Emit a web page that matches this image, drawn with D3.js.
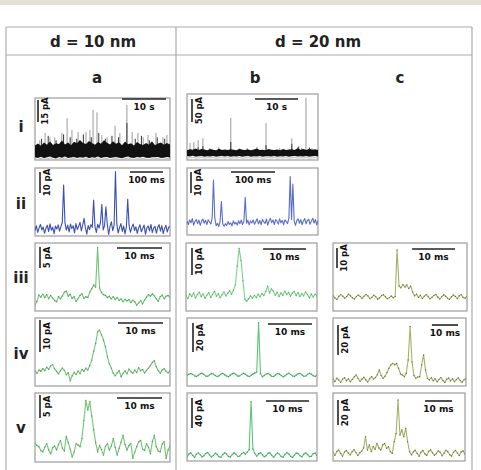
<!DOCTYPE html>
<html>
<head>
<meta charset="utf-8">
<script src="https://cdn.jsdelivr.net/npm/d3@7"></script>
<style>
  body { margin: 0; background: #fff; }
  text { font-family: "DejaVu Sans", Verdana, sans-serif; font-weight: bold; }
</style>
</head>
<body>
<div id="chart"></div>
<script>
// ---- labels ----
const colHeads = ["d = 10 nm", "d = 20 nm"];
const colLetters = ["a", "b", "c"];
const rowLabels = ["i", "ii", "iii", "iv", "v"];

// ---- row i : dense recordings (envelope of the black band + spikes, t in s, pA) ----
const aiHi = [4.5, 5.8, 4.2, 6.5, 5.0, 7.2, 4.8, 6.0, 5.5, 7.8, 5.2, 6.4, 4.6, 7.0, 5.9, 8.2, 6.1, 5.4, 7.5, 6.2, 4.9, 6.8, 5.7, 8.0, 6.3, 5.1, 7.3, 5.6, 6.6, 4.7, 7.1, 5.3, 6.0, 4.4, 6.9, 5.5, 4.8, 6.2, 5.0, 7.4, 4.6, 5.8, 6.5, 4.9, 6.1, 5.2];
const aiLo = [-3.5, -4.0, -3.2, -4.2, -3.6, -3.0, -3.9, -4.3, -3.4, -3.8, -3.1, -4.0, -3.7, -3.3, -4.1, -3.6, -3.9, -3.2, -4.2, -3.5, -3.8, -3.0, -4.0, -3.6, -3.4, -4.1, -3.7, -3.3, -3.9, -4.2, -3.5, -3.1, -3.8, -4.0, -3.4, -3.7, -3.2, -3.9, -4.1, -3.5, -3.6, -3.3, -4.0, -3.8, -3.4, -3.7];
const aiGreySpikes = [[1.1, 8], [2.3, 13], [3.4, 10], [4.5, 10], [6.1, 13], [7.3, 23], [8.4, 15], [9.8, 13.6], [11.6, 13.6], [12.5, 15], [13.2, 28.6], [14.1, 27], [15.2, 11.6], [16.4, 10], [18.2, 18], [19.3, 13], [20.9, 32], [22.1, 13.6], [23.4, 13], [24.6, 10], [25.7, 11.6], [27.5, 13], [29.1, 10], [30.0, 11.6]];
const aiDarkSpikes = [[1.5, 9], [3.0, 11], [4.8, 8], [6.5, 12], [8.0, 10], [9.5, 9], [11.0, 12], [12.8, 10], [14.5, 13], [16.0, 9], [17.5, 11], [19.0, 10], [20.9, 19.7], [22.8, 9], [24.2, 11], [26.0, 8], [27.8, 10], [29.5, 9]];

const biHi = [6.0, 8.5, 7.0, 10.0, 6.5, 9.0, 7.5, 6.2, 8.8, 7.2, 6.0, 9.5, 6.8, 7.8, 6.4, 8.2, 7.0, 6.1, 9.2, 7.4, 6.6, 8.0, 6.3, 7.6, 9.8, 6.9, 7.1, 6.2, 8.6, 7.3, 6.5, 7.9, 6.0, 9.0, 6.8, 7.5, 8.4, 6.4, 10.5, 7.0, 8.9, 6.7, 9.4, 7.2, 8.1, 6.6];
const biLo = [-6.5, -7.5, -6.0, -8.0, -7.0, -6.3, -7.8, -6.8, -7.2, -6.1, -8.2, -7.0, -6.6, -7.6, -6.4, -7.9, -6.9, -7.3, -6.2, -8.0, -7.1, -6.5, -7.7, -6.8, -7.4, -6.3, -8.1, -7.0, -6.7, -7.5, -6.2, -7.8, -6.9, -7.2, -6.6, -8.0, -7.1, -6.4, -7.6, -6.8, -7.3, -6.1, -7.9, -7.0, -6.5, -7.4];
const biGreySpikes = [[0.7, 22], [1.6, 24], [2.6, 28], [3.7, 32], [5.3, 11], [7.4, 13], [10.2, 76], [16.3, 13], [18.4, 65], [21.6, 11], [24.4, 32], [25.8, 13], [26.7, 12], [27.7, 120], [29.1, 11]];
const biDarkSpikes = [[2.6, 12], [3.7, 15], [10.2, 24], [14.0, 10], [18.4, 17], [24.4, 20], [26.0, 14], [28.5, 12]];

// ---- row ii : 100 ms windows (pA) ----
const aiiTrace = [-0.8, 1.5, -1.6, 0.6, 2.2, -0.4, 1.0, -2.0, 0.3, 1.8,
  -1.2, 2.5, -0.6, 0.9, -2.2, 1.4, 0.0, 2.0, -1.0, 1.2,
  3.0, 20.9, 2.8, -0.5, 1.9, -1.4, 2.4, 0.2, 1.6, -1.8,
  2.6, -0.2, 1.3, 3.2, -0.9, 2.0, 5.1, 0.4, -2.4, 1.7,
  -0.3, 2.1, 0.8, 13.8, 1.0, -1.6, 2.3, 0.5, 3.0, 11.8,
  -0.4, 1.5, 10.6, 2.4, -2.6, 1.2, 3.4, -0.8, 1.8, 27.3,
  2.2, -1.9, 0.7, 2.6, -1.1, 1.4, -2.3, 0.9, 14.1, 1.6,
  -1.5, 0.8, 2.4, -0.7, 1.1, -2.1, 0.5, 2.0, -1.3, 0.3,
  1.9, -2.5, 0.6, 1.5, -0.9, 2.2, -1.7, 0.4, 1.3, -2.0,
  0.8, 2.1, -1.0, 1.6, -2.2, 0.2, 1.8, -1.4, 0.9, 1.2];
const biiTrace = [0.5, -1.2, 1.0, -0.4, 1.6, -1.5, 0.2, 1.2, -0.8, 0.9,
  -1.6, 0.4, 1.4, -0.6, 0.8, -1.3, 1.1, 0.0, -1.0, 1.8,
  20.0, 2.0, -1.8, -0.6, -2.2, 0.3, 9.7, -1.0, -2.0, -0.8,
  -1.6, 0.2, -1.2, -0.4, -1.9, 0.5, -1.0, -0.2, -1.5, 0.6,
  -0.8, 0.9, -1.2, 0.3, 11.8, -0.6, 0.8, -1.4, 0.5, -0.5,
  1.0, -1.1, 0.2, 1.5, -0.9, 0.7, -1.3, 1.2, 0.0, -0.7,
  1.4, -1.5, 0.6, 1.7, -0.3, 0.9, -1.2, 1.1, 0.4, -1.0,
  1.5, -0.4, 0.8, -1.4, 1.0, 0.2, -0.8, 1.9, 21.6, 1.2,
  18.1, 0.4, -1.6, 0.8, 1.5, -0.6, 1.1, -1.3, 0.5, 1.6,
  -0.9, 0.7, 1.3, -1.1, 0.4, 1.8, -0.5, 1.2, -1.4, 0.6];

// ---- rows iii-v : single events, 10 ms windows (pA) ----
const aiiiTrace = [-1.7, -0.8, 0.7, 0.2, 0.9, 0.1, 0.8, -0.2, 0.6, 0.0, -0.6, -0.9, 0.3, -0.2, 0.5, 1.4, 1.6, 0.4, 0.9, -0.1,
  0.3, -0.8, -0.2, 0.6, 1.0, -0.1, 0.3, 0.1, 1.4, 2.2, 3.1, 2.6, 12.0, 2.4, 1.3, 0.8, 0.6, 0.1, 0.4, -0.2,
  0.3, -0.4, 0.1, -0.6, -0.2, -0.9, -0.3, -0.7, -0.4, -1.1, -0.5, -0.9, -1.7, -1.2, -0.6, -1.4, -0.5, 0.2, 0.8, 0.4,
  1.0, 0.5, -0.2, -0.8, 0.3, 0.7, -0.2, 0.4, 0.6, 0.2];
const biiiTrace = [0.5, -0.6, 1.2, 0.2, 1.5, -0.4, 0.9, 1.8, 0.1, 1.1, -0.5, 0.7, 1.6, -0.2, 0.9, 2.0, 0.3, 1.2, -0.3, 0.8,
  1.9, 0.4, 1.4, 2.3, 1.0, 2.6, 4.5, 11.5, 18.0, 13.5, 6.0, -0.8, -1.6, -0.6, 0.4, -0.5, 0.6, -0.2, 1.0, 0.1,
  1.3, 0.5, 2.0, 4.0, 1.5, 3.0, 2.2, 0.6, 1.8, 0.2, 1.5, 0.6, 2.1, 0.9, 1.7, 0.3, 1.4, 2.0, 0.5, 1.6,
  0.2, 1.2, 0.4, 1.9, 0.8, -0.3, 1.1, 0.0, 1.0, 0.4];
const ciiiTrace = [0.5, -0.5, -1.2, 0.3, 1.2, 0.4, -0.6, 0.2, 1.4, 0.6, -0.4, -1.0, 0.2, 1.0, 0.3, -0.7, 0.4, 1.3, 0.5, -0.8,
  -0.2, 0.9, 0.2, -1.1, -0.4, 0.7, 1.1, 0.1, -0.9, -0.3, 0.5, -0.4, 0.2, 23.5, 5.5, 4.6, 6.2, 5.0, 6.0, 4.2,
  5.4, 2.5, 0.6, 1.4, -0.2, 0.9, -0.8, 0.4, 1.2, 0.2, -0.9, -0.1, 0.8, 1.3, 0.0, -1.0, 0.2, 1.1, 0.4, -0.6,
  -1.2, 0.1, 1.0, 0.3, -0.8, 0.5, 1.2, -0.2, -0.6, 0.3];
const aivTrace = [0.3, -0.4, 0.6, 0.2, 1.0, 0.4, 1.5, 0.8, 1.9, 2.3, 1.0, 0.2, -0.6, 0.4, 1.2, 0.5, -0.9, -0.2, -2.8, -1.2,
  -0.1, -0.8, 0.3, -0.5, 0.8, 0.2, 1.2, 0.6, 2.0, 3.7, 6.5, 9.0, 12.6, 13.1, 11.6, 10.0, 7.9, 4.8, 2.5, 1.2,
  -0.4, -1.2, -0.3, 0.4, -1.5, -0.5, 0.3, -0.6, 0.9, 0.1, -0.4, 0.6, -0.2, 1.3, 0.4, 0.8, -0.3, 0.5, 1.2, 2.0,
  3.0, 3.5, 1.6, 0.4, -0.4, 0.6, 1.0, 0.2, -0.3, 0.4];
const bivTrace = [-0.3, 0.5, 1.0, 0.4, -0.6, -1.0, -0.2, 0.8, 1.2, 0.3, -0.8, -0.9, 0.1, 1.0, 0.6, -0.4, -1.1, -0.5, 0.6, 1.1,
  0.2, -0.7, -1.2, -0.2, 0.9, 1.3, 0.3, -0.8, -0.6, 0.4, 1.2, 0.5, -0.5, -1.1, -0.3, 0.7, 1.4, 2.0, 36.0, 1.0,
  -1.2, -0.4, 0.6, 1.1, 0.2, -0.9, -1.0, 0.0, 1.0, 0.7, -0.3, -1.2, -0.6, 0.5, 1.3, 0.4, -0.6, -1.0, 0.0, 0.9,
  1.1, 0.1, -0.9, -0.7, 0.4, 1.2, 0.5, -0.5, -1.0, 0.0];
const civTrace = [0.5, -1.0, 1.2, 0.0, -1.5, 0.6, 1.5, -0.5, 0.8, -1.2, 0.4, 2.0, 3.3, 1.0, -0.8, 0.5, 1.8, 0.2, -1.3, 0.9,
  2.2, 0.6, 1.6, 3.5, 6.7, 3.0, 1.1, 2.5, 5.0, 7.8, 10.0, 11.1, 10.2, 11.0, 7.8, 4.0, 3.3, 2.2, 4.5, 13.3,
  35.6, 12.0, 3.0, 1.1, 2.0, 2.2, 10.0, 16.7, 6.7, 1.1, 0.0, 1.5, -0.5, 0.8, -1.2, 0.4, 1.6, -0.3, -1.6, 0.5,
  1.3, -0.6, 0.9, -1.1, 0.3, 1.4, -0.4, -1.5, 0.2, 0.8];
const avTrace = [1.0, 0.6, 0.3, -0.5, -0.8, 0.2, 1.0, -0.4, -1.2, 0.1, 0.5, -0.4, 0.8, 1.7, 0.0, -0.6, 2.6, 1.2, -0.2, -1.9,
  -0.8, 1.0, 0.7, 0.3, 2.1, 6.0, 10.4, 8.3, 10.1, 7.0, 4.0, 1.2, -0.8, 0.6, -0.3, -1.5, 0.4, 1.0, -0.4, 0.5,
  2.1, 0.2, -1.5, 0.0, 1.3, 2.8, 0.8, -0.4, 0.6, 1.0, -2.2, -0.8, 0.3, 1.4, 1.7, -0.2, -0.5, 1.0, 0.2, -1.2,
  1.5, 2.8, 0.3, -0.6, -0.8, 0.9, 1.4, -2.2, -0.4, 0.5];
const bvTrace = [-2.5, 1.5, 3.0, -0.5, -3.2, 0.8, 2.8, 0.2, -2.6, -1.0, 2.2, 3.4, 0.0, -2.8, -0.6, 2.5, 1.0, -2.2, -3.0, 0.6,
  3.2, 1.4, -1.8, -2.6, 0.5, 3.0, 0.8, -2.0, -1.2, 1.8, 3.5, 1.0, 4.0, 7.0, 71.0, 8.0, 2.0, -1.5, 1.6, 3.2,
  0.4, -2.4, -1.0, 2.4, 3.0, -0.4, -3.0, 0.2, 2.8, 1.2, -2.0, -2.8, 0.9, 3.3, 1.5, -1.6, -3.2, -0.2, 2.6, 2.0,
  -1.0, -2.5, 1.0, 3.0, 0.6, -2.2, -1.6, 1.8, 2.6, -0.6];
const cvTrace = [0.5, -1.8, 1.2, 2.4, -0.3, -2.5, 0.8, 2.0, 0.0, -1.5, 1.0, 2.6, 0.4, -2.0, 0.2, 1.5, 4.0, 13.0, 2.4, 6.4,
  1.1, 5.1, 3.0, 7.7, 4.0, 2.4, 6.4, 7.7, 3.7, 5.0, 1.1, -0.3, 9.1, 15.7, 42.4, 14.4, 18.4, 13.0, 19.7, 9.1,
  1.1, -1.5, 0.8, 2.2, -0.4, -2.6, 0.6, 2.0, -0.6, -2.0, 1.2, 2.5, 0.2, -1.8, -0.5, 1.8, 0.6, -2.2, -0.2, 2.3,
  1.0, -1.4, -2.4, 0.7, 2.1, 0.0, -2.0, 0.9, 1.6, -0.8];

// ---- panel layout ----
// rect: [x, y, w, h]; win: window length; yDom: current range (pA);
// vb: offset of vertical scale bar from panel top-left; hb: offset of time bar from panel top-right
const panels = [
  { kind: "band", hi: aiHi, lo: aiLo, grey: aiGreySpikes, dark: aiDarkSpikes, rect: [35, 98, 135, 62], win: 30.7, yDom: [-5.4, 36.7], bar: 15, barT: 10, unit: "s", vb: [3, 2], hb: [4, 1] },
  { kind: "band", hi: biHi, lo: biLo, grey: biGreySpikes, dark: biDarkSpikes, rect: [187, 94, 131, 66], win: 30.5, yDom: [-15, 128], bar: 50, barT: 10, unit: "s", vb: [5, 5], hb: [20, 5] },
  { kind: "trace", values: aiiTrace, color: "#3b4fb2", dots: null, rect: [35, 168, 135, 68], win: 409, yDom: [-3.3, 29], bar: 10, barT: 100, unit: "ms", vb: [5, 4], hb: [7, 4] },
  { kind: "trace", values: biiTrace, color: "#5a6dcc", dots: null, rect: [187, 168, 131, 67], win: 298, yDom: [-6.2, 25.7], bar: 10, barT: 100, unit: "ms", vb: [4, 4], hb: [43, 4] },
  { kind: "trace", values: aiiiTrace, color: "#72c377", dots: "#3b9a47", rect: [35, 243, 135, 68], win: 30, yDom: [-3.1, 13.1], bar: 5, barT: 10, unit: "ms", vb: [5, 4], hb: [8, 5] },
  { kind: "trace", values: biiiTrace, color: "#7fcf8a", dots: "#3faa55", rect: [186, 243, 131, 68], win: 30.5, yDom: [-5.2, 20], bar: 10, barT: 10, unit: "ms", vb: [6, 5], hb: [11, 6] },
  { kind: "trace", values: ciiiTrace, color: "#a8b066", dots: "#5c6030", rect: [333, 243, 134, 68], win: 31.2, yDom: [-7, 27], bar: 10, barT: 10, unit: "ms", vb: [4, 5], hb: [12, 6] },
  { kind: "trace", values: aivTrace, color: "#72c377", dots: "#3b9a47", rect: [35, 318, 135, 68], win: 30, yDom: [-4.4, 16.9], bar: 10, barT: 10, unit: "ms", vb: [5, 2], hb: [7, 5] },
  { kind: "trace", values: bivTrace, color: "#5fc27a", dots: "#2f9a50", rect: [187, 318, 130, 68], win: 29.5, yDom: [-7.6, 39.3], bar: 20, barT: 10, unit: "ms", vb: [6, 5], hb: [5, 6] },
  { kind: "trace", values: civTrace, color: "#a8b066", dots: "#5c6030", rect: [333, 318, 133, 68], win: 51, yDom: [-4, 41.3], bar: 20, barT: 10, unit: "ms", vb: [5, 7], hb: [8, 7] },
  { kind: "trace", values: avTrace, color: "#72c377", dots: "#3b9a47", rect: [35, 393, 135, 69], win: 30, yDom: [-3, 12], bar: 5, barT: 10, unit: "ms", vb: [5, 2], hb: [8, 5] },
  { kind: "trace", values: bvTrace, color: "#5fc27a", dots: "#2f9a50", rect: [187, 393, 130, 68], win: 30.2, yDom: [-8, 82.7], bar: 40, barT: 10, unit: "ms", vb: [5, 5], hb: [8, 8] },
  { kind: "trace", values: cvTrace, color: "#a8b066", dots: "#5c6030", rect: [333, 393, 132, 68], win: 48.9, yDom: [-6.4, 48], bar: 20, barT: 10, unit: "ms", vb: [5, 7], hb: [13, 8] }
];

const W = 481, H = 470;
const svg = d3.select("#chart").append("svg").attr("width", W).attr("height", H);

// page strip at the very top
svg.append("rect").attr("x", 0).attr("y", 0).attr("width", W).attr("height", 5).attr("fill", "#e4e0d4");

// table grid
const grid = svg.append("g").attr("stroke", "#ababab").attr("stroke-width", 1.2);
grid.append("line").attr("x1", 6).attr("y1", 27).attr("x2", 472).attr("y2", 27);
grid.append("line").attr("x1", 6).attr("y1", 55).attr("x2", 472).attr("y2", 55);
grid.append("line").attr("x1", 6).attr("y1", 27).attr("x2", 6).attr("y2", H);
grid.append("line").attr("x1", 472).attr("y1", 27).attr("x2", 472).attr("y2", H);
grid.append("line").attr("x1", 176).attr("y1", 27).attr("x2", 176).attr("y2", H);

const headX = [93, 318];
svg.selectAll(".head").data(colHeads).enter().append("text")
  .attr("x", (d, i) => headX[i]).attr("y", 47)
  .attr("text-anchor", "middle").attr("font-size", 15).attr("fill", "#222")
  .text(d => d);

const letterX = [97, 255, 400];
svg.selectAll(".letter").data(colLetters).enter().append("text")
  .attr("x", (d, i) => letterX[i]).attr("y", 83)
  .attr("text-anchor", "middle").attr("font-size", 15).attr("fill", "#222")
  .text(d => d);

const rowY = [132, 209, 283, 359, 433];
svg.selectAll(".rowlab").data(rowLabels).enter().append("text")
  .attr("x", 21).attr("y", (d, i) => rowY[i])
  .attr("text-anchor", "middle").attr("font-size", 15).attr("fill", "#222")
  .text(d => d);

panels.forEach((p, k) => {
  const [x0, y0, w, h] = p.rect;
  const x = d3.scaleLinear().domain([0, p.win]).range([x0, x0 + w]);
  const y = d3.scaleLinear().domain(p.yDom).range([y0 + h, y0]);

  const clipId = "clip" + k;
  svg.append("clipPath").attr("id", clipId)
    .append("rect").attr("x", x0).attr("y", y0).attr("width", w).attr("height", h);

  svg.append("rect").attr("x", x0).attr("y", y0).attr("width", w).attr("height", h)
    .attr("fill", "#fff").attr("stroke", "#9c9c9c").attr("stroke-width", 1.2);

  const g = svg.append("g").attr("clip-path", `url(#${clipId})`);

  if (p.kind === "band") {
    const n = p.hi.length;
    const tOf = i => i * p.win / (n - 1);
    g.selectAll(".gs").data(p.grey).enter().append("line")
      .attr("x1", d => x(d[0])).attr("x2", d => x(d[0]))
      .attr("y1", y(0)).attr("y2", d => y(d[1]))
      .attr("stroke", "#9a9a9a").attr("stroke-width", 1);
    g.selectAll(".ds").data(p.dark).enter().append("line")
      .attr("x1", d => x(d[0])).attr("x2", d => x(d[0]))
      .attr("y1", y(0)).attr("y2", d => y(d[1]))
      .attr("stroke", "#333").attr("stroke-width", 1);
    const area = d3.area()
      .x((d, i) => x(tOf(i)))
      .y0((d, i) => y(p.lo[i]))
      .y1(d => y(d));
    g.append("path").datum(p.hi).attr("d", area).attr("fill", "#111");
    const lowLine = d3.line().x((d, i) => x(tOf(i))).y(d => y(d));
    g.append("path").datum(p.lo).attr("d", lowLine)
      .attr("fill", "none").attr("stroke", "#bbb").attr("stroke-width", 1)
      .attr("transform", "translate(0,1.5)");
  } else {
    const n = p.values.length;
    const tOf = i => i * p.win / (n - 1);
    const line = d3.line().x((d, i) => x(tOf(i))).y(d => y(d));
    g.append("path").datum(p.values).attr("d", line)
      .attr("fill", "none").attr("stroke", p.color).attr("stroke-width", 1.1)
      .attr("stroke-linejoin", "round");
    if (p.dots) {
      g.selectAll(".dot").data(p.values).enter().append("circle")
        .attr("cx", (d, i) => x(tOf(i))).attr("cy", d => y(d))
        .attr("r", 0.7).attr("fill", p.dots).attr("opacity", 0.8);
    }
  }

  // vertical current scale bar
  const vx = x0 + p.vb[0];
  const vTop = y0 + p.vb[1];
  const vLen = y(0) - y(p.bar);
  svg.append("line").attr("x1", vx).attr("x2", vx).attr("y1", vTop).attr("y2", vTop + vLen)
    .attr("stroke", "#222").attr("stroke-width", 1.6);
  svg.append("text")
    .attr("transform", `translate(${vx + 7},${vTop + vLen / 2}) rotate(-90)`)
    .attr("text-anchor", "middle").attr("dominant-baseline", "central")
    .attr("font-size", 8.5).attr("fill", "#111")
    .text(p.bar + " pA");

  // horizontal time scale bar
  const hRight = x0 + w - p.hb[0];
  const hLen = x(p.barT) - x(0);
  const hy = y0 + p.hb[1];
  svg.append("line").attr("x1", hRight - hLen).attr("x2", hRight).attr("y1", hy).attr("y2", hy)
    .attr("stroke", "#222").attr("stroke-width", 1.6);
  svg.append("text")
    .attr("x", hRight - hLen / 2).attr("y", hy + 11)
    .attr("text-anchor", "middle").attr("font-size", 9).attr("fill", "#111")
    .text(p.barT + " " + p.unit);
});
</script>
</body>
</html>
